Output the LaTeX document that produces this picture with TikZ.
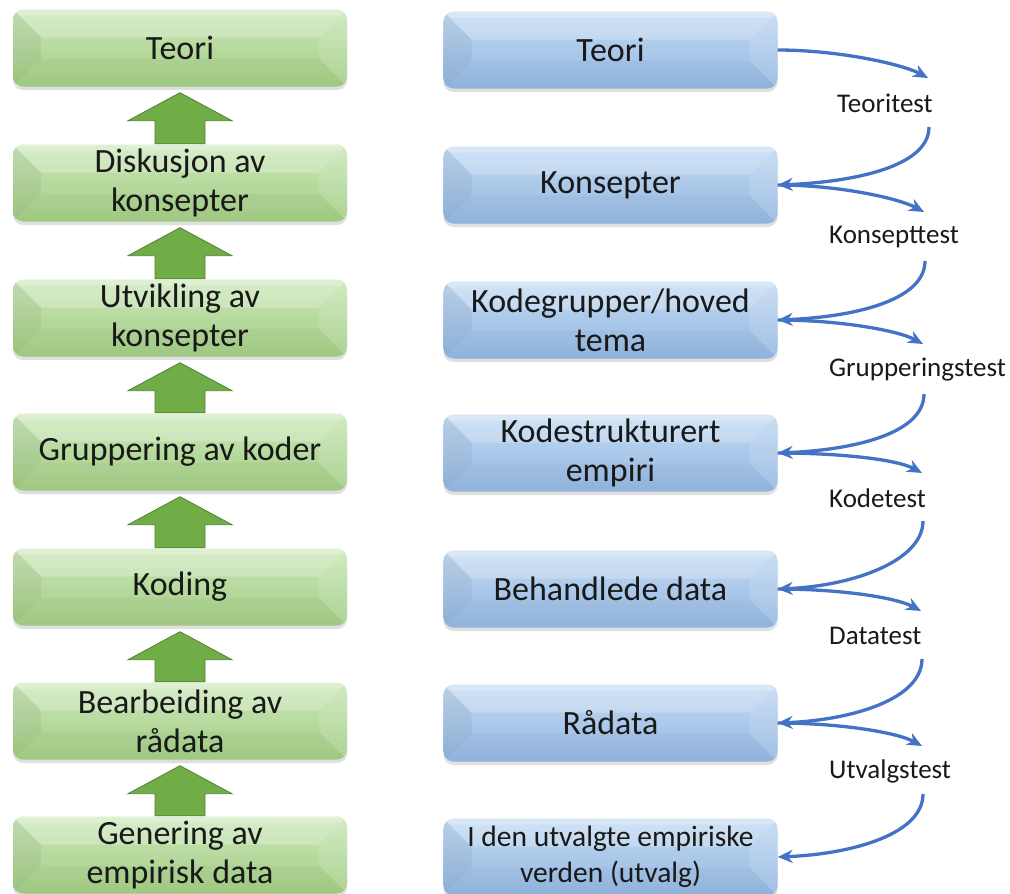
\documentclass[tikz,border=0pt]{standalone}
\usepackage{fontspec}
\setmainfont{Carlito}
\usetikzlibrary{arrows.meta,shadows,calc}
\definecolor{gtop}{RGB}{204,232,186}
\definecolor{gbot}{RGB}{162,205,132}
\definecolor{btop}{RGB}{196,219,243}
\definecolor{bbot}{RGB}{147,183,225}
\definecolor{arrgreen}{RGB}{112,173,71}
\definecolor{arrgreenedge}{RGB}{84,130,53}
\definecolor{curveblue}{RGB}{68,114,196}
\begin{document}
\begin{tikzpicture}[x=1pt,y=-1pt,
  bevelbox/.style={rounded corners=10pt, minimum width=334pt, minimum height=77pt,
    inner sep=0pt, align=center, text=black!90, font=\fontsize{34}{39}\selectfont,
    drop shadow={opacity=.25,shadow xshift=0pt,shadow yshift=-3.5pt},
    path picture={
      \coordinate (pnw) at (path picture bounding box.north west);
      \coordinate (pne) at (path picture bounding box.north east);
      \coordinate (psw) at (path picture bounding box.south west);
      \coordinate (pse) at (path picture bounding box.south east);
      \fill[white,opacity=.22,sharp corners] (pnw) -- (pne) -- ($(pne)+(-28pt,-28pt)$) -- ($(pnw)+(28pt,-28pt)$) -- cycle;
      \fill[white,opacity=.2,sharp corners] (pnw) -- (pne) -- ($(pne)+(-6pt,-6pt)$) -- ($(pnw)+(6pt,-6pt)$) -- cycle;
      \fill[black,opacity=.05,sharp corners] (pnw) -- ($(pnw)+(28pt,-28pt)$) -- ($(psw)+(28pt,28pt)$) -- (psw) -- cycle;
      \fill[white,opacity=.12,sharp corners] (pne) -- ($(pne)+(-28pt,-28pt)$) -- ($(pse)+(-28pt,28pt)$) -- (pse) -- cycle;
      \fill[black,opacity=.025,sharp corners] (psw) -- ($(psw)+(28pt,28pt)$) -- ($(pse)+(-28pt,28pt)$) -- (pse) -- cycle;
    }},
  gbox/.style={bevelbox, top color=gtop, bottom color=gbot},
  bbox/.style={bevelbox, top color=btop, bottom color=bbot},
  uparrow/.style={fill=arrgreen, draw=arrgreenedge, line width=0.8pt, line join=miter},
  testlabel/.style={anchor=west, inner sep=0pt, text=black!90, font=\fontsize{27}{32}\selectfont},
  conn/.style={draw=curveblue, line width=3.3pt, -{Stealth[length=15pt,width=13pt]}}
]
\useasboundingbox (0,0) rectangle (1010,894);

% green column
\node[gbox] (g1) at (180,48) {Teori};
\node[gbox] (g2) at (180,183) {Diskusjon av\\konsepter};
\node[gbox] (g3) at (180,318) {Utvikling av\\konsepter};
\node[gbox] (g4) at (180,452) {Gruppering av koder};
\node[gbox] (g5) at (180,587) {Koding};
\node[gbox] (g6) at (180,721) {Bearbeiding av\\rådata};
\node[gbox] (g7) at (180,855) {Genering av\\empirisk data};

% green up arrows
\foreach \a/\b in {g1/g2,g2/g3,g3/g4,g4/g5,g5/g6,g6/g7}{
  \path[uparrow] let \p1=(\a.south), \p2=(\b.north) in
    (\x1,\y1-6pt) -- (\x1+52pt,\y1-34pt) -- (\x1+25pt,\y1-34pt) -- (\x1+25pt,\y2+0.5pt)
    -- (\x1-25pt,\y2+0.5pt) -- (\x1-25pt,\y1-34pt) -- (\x1-52pt,\y1-34pt) -- cycle;
}

% blue column
\node[bbox] (b1) at (610.5,50) {Teori};
\node[bbox] (b2) at (610.5,185) {Konsepter};
\node[bbox] (b3) at (610.5,320) {Kodegrupper/hoved\\tema};
\node[bbox] (b4) at (610.5,453) {Kodestrukturert\\empiri};
\node[bbox] (b5) at (610.5,589) {Behandlede data};
\node[bbox] (b6) at (610.5,723) {Rådata};
\node[bbox, font=\fontsize{29.5}{36}\selectfont] (b7) at (610.5,857) {I den utvalgte empiriske\\verden (utvalg)};

% test labels
\node[testlabel] (l1) at (837,103) {Teoritest};
\node[testlabel] (l2) at (829,237) {Konsepttest};
\node[testlabel] (l3) at (829,370) {Grupperingstest};
\node[testlabel] (l4) at (829,498) {Kodetest};
\node[testlabel] (l5) at (829,636) {Datatest};
\node[testlabel] (l6) at (829,771) {Utvalgstest};

% arrow end / start coordinates
\coordinate (a1) at (928,78);  \coordinate (d1) at (929,127);
\coordinate (a2) at (924,212); \coordinate (d2) at (925,261);
\coordinate (a3) at (923,344); \coordinate (d3) at (924,394);
\coordinate (a4) at (922,473); \coordinate (d4) at (923,521);
\coordinate (a5) at (921,611); \coordinate (d5) at (922,659);
\coordinate (a6) at (922,746); \coordinate (d6) at (923,794);

% curved connectors
\foreach \i in {1,...,6}{
  \draw[conn] (b\i.east) .. controls +(60pt,0pt) and +(-26pt,14pt) .. (a\i);
}
\foreach \i/\j in {1/2,2/3,3/4,4/5,5/6,6/7}{
  \draw[conn] (d\i) .. controls +(0pt,-40pt) and +(75pt,3pt) .. (b\j.east);
}
\end{tikzpicture}
\end{document}
